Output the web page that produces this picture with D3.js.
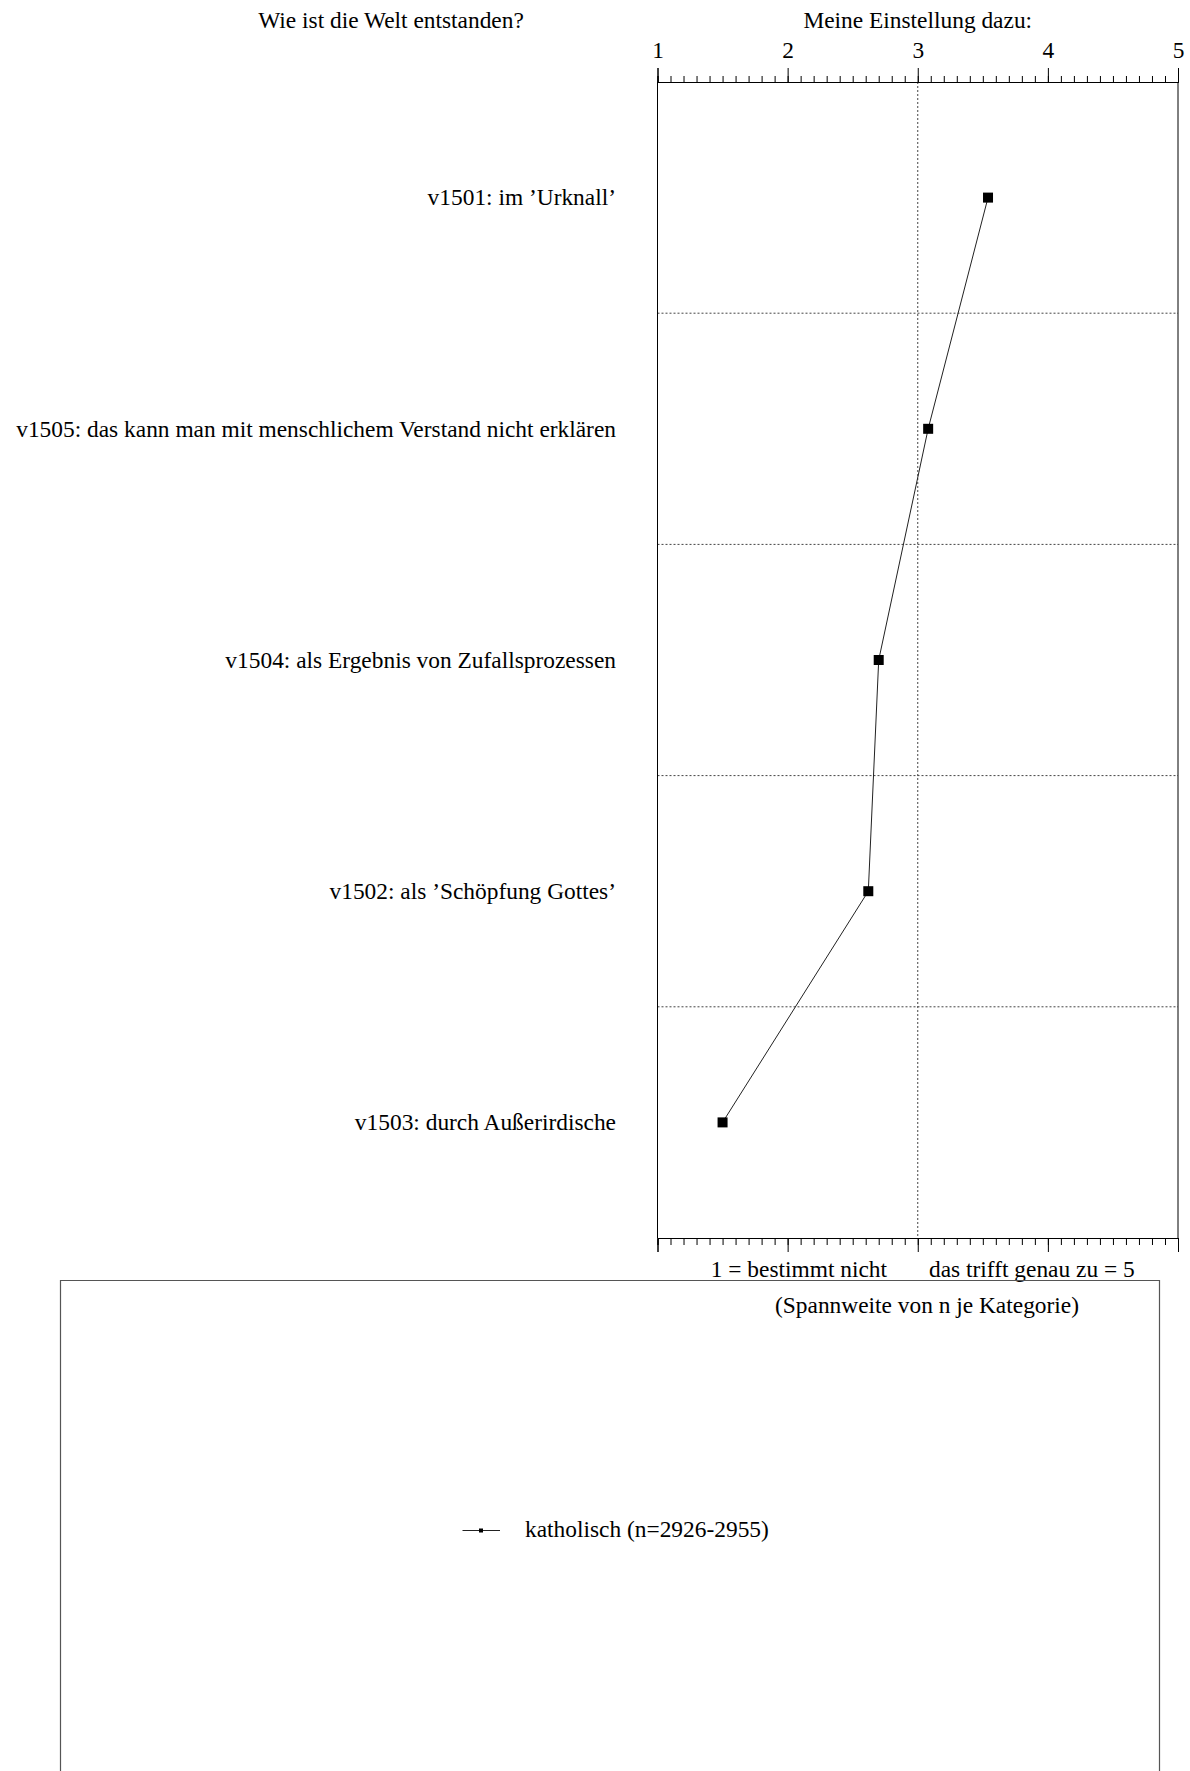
<!DOCTYPE html>
<html>
<head>
<meta charset="utf-8">
<script src="https://cdn.jsdelivr.net/npm/d3@7"></script>
<style>
  html, body { margin: 0; padding: 0; background: #fff; }
  svg { display: block; }
  text { font-family: "Liberation Serif", "Times New Roman", serif; font-size: 23.4px; fill: #000; }
</style>
</head>
<body>
<svg id="chart" width="1190" height="1771"></svg>
<script>
// ---- data ----
const categories = [
  "v1501: im \u2019Urknall\u2019",
  "v1505: das kann man mit menschlichem Verstand nicht erklären",
  "v1504: als Ergebnis von Zufallsprozessen",
  "v1502: als \u2019Schöpfung Gottes\u2019",
  "v1503: durch Außerirdische"
];
const values = [3.54, 3.08, 2.70, 2.62, 1.50];
const majorTicks = [1, 2, 3, 4, 5];
const seriesName = "katholisch (n=2926-2955)";
const questionTitle = "Wie ist die Welt entstanden?";
const scaleTitle = "Meine Einstellung dazu:";
const lowLabel = "1 = bestimmt nicht";
const highLabel = "das trifft genau zu = 5";
const rangeNote = "(Spannweite von n je Kategorie)";

// ---- layout ----
const svg = d3.select("#chart");
const pLeft = 657.5, pRight = 1178, pTop = 82, pBottom = 1238;
const x = d3.scaleLinear().domain([1, 5]).range([pLeft, pRight]);
const y = d3.scaleBand().domain(categories).range([pTop, pBottom]).padding(0);
const minorTicks = d3.range(10, 51).map(d => d / 10);

// grid: horizontal dotted separators
const seps = categories.slice(1).map(c => y(c));
svg.append("g").selectAll("line").data(seps).join("line")
  .attr("x1", pLeft).attr("x2", pRight)
  .attr("y1", d => d).attr("y2", d => d)
  .attr("stroke", "#444").attr("stroke-width", 1).attr("stroke-dasharray", "2,2");
// vertical dotted line at 3
svg.append("line")
  .attr("x1", x(3)).attr("x2", x(3)).attr("y1", pTop).attr("y2", pBottom)
  .attr("stroke", "#444").attr("stroke-width", 1).attr("stroke-dasharray", "2,2");

// frame sides
svg.append("line").attr("x1", pLeft).attr("x2", pLeft).attr("y1", pTop).attr("y2", pBottom)
  .attr("stroke", "#000").attr("stroke-width", 1);
svg.append("line").attr("x1", pRight).attr("x2", pRight).attr("y1", pTop).attr("y2", pBottom)
  .attr("stroke", "#000").attr("stroke-width", 1);

// top axis
const topMinor = svg.append("g").attr("transform", `translate(0,${pTop})`)
  .call(d3.axisTop(x).tickValues(minorTicks).tickSize(6).tickFormat(""));
const topMajor = svg.append("g").attr("transform", `translate(0,${pTop})`)
  .call(d3.axisTop(x).tickValues(majorTicks).tickSize(14).tickPadding(10).tickFormat(d3.format("d")));
// bottom axis
const botMinor = svg.append("g").attr("transform", `translate(0,${pBottom})`)
  .call(d3.axisBottom(x).tickValues(minorTicks).tickSize(7).tickFormat(""));
const botMajor = svg.append("g").attr("transform", `translate(0,${pBottom})`)
  .call(d3.axisBottom(x).tickValues(majorTicks).tickSize(14).tickFormat(""));
[topMinor, topMajor, botMinor, botMajor].forEach(g => {
  g.attr("font-family", null).attr("font-size", null);
  g.selectAll("path.domain").attr("stroke", "#000").attr("stroke-width", 1);
  g.selectAll(".tick line").attr("stroke", "#000").attr("stroke-width", 1);
  g.selectAll(".tick text").attr("fill", "#000");
});

// titles
svg.append("text").attr("x", 391).attr("y", 28).attr("text-anchor", "middle").text(questionTitle);
svg.append("text").attr("x", x(3)).attr("y", 28).attr("text-anchor", "middle").text(scaleTitle);

// category labels
svg.append("g").selectAll("text").data(categories).join("text")
  .attr("x", 616).attr("y", d => y(d) + y.bandwidth() / 2)
  .attr("dy", "0.33em").attr("text-anchor", "end").text(d => d);

// series line + markers
const pts = categories.map((c, i) => ({ c, v: values[i] }));
svg.append("path").datum(pts)
  .attr("d", d3.line().x(d => x(d.v)).y(d => y(d.c) + y.bandwidth() / 2))
  .attr("fill", "none").attr("stroke", "#222").attr("stroke-width", 1);
svg.append("g").selectAll("rect").data(pts).join("rect")
  .attr("x", d => x(d.v) - 5).attr("y", d => y(d.c) + y.bandwidth() / 2 - 5)
  .attr("width", 10).attr("height", 10).attr("fill", "#000");

// bottom scale labels
svg.append("text").attr("x", 887).attr("y", 1277).attr("text-anchor", "end").text(lowLabel);
svg.append("text").attr("x", 929).attr("y", 1277).attr("text-anchor", "start").text(highLabel);

// legend box
svg.append("path")
  .attr("d", `M60.5,1771 L60.5,1280.5 L1159.5,1280.5 L1159.5,1771`)
  .attr("fill", "none").attr("stroke", "#555").attr("stroke-width", 1.2);
svg.append("text").attr("x", 927).attr("y", 1313).attr("text-anchor", "middle").text(rangeNote);

// legend entry
svg.append("line").attr("x1", 462.5).attr("x2", 500).attr("y1", 1530.5).attr("y2", 1530.5)
  .attr("stroke", "#222").attr("stroke-width", 1);
svg.append("rect").attr("x", 479).attr("y", 1528.5).attr("width", 4).attr("height", 4).attr("fill", "#000");
svg.append("text").attr("x", 525).attr("y", 1537).text(seriesName);
</script>
</body>
</html>
